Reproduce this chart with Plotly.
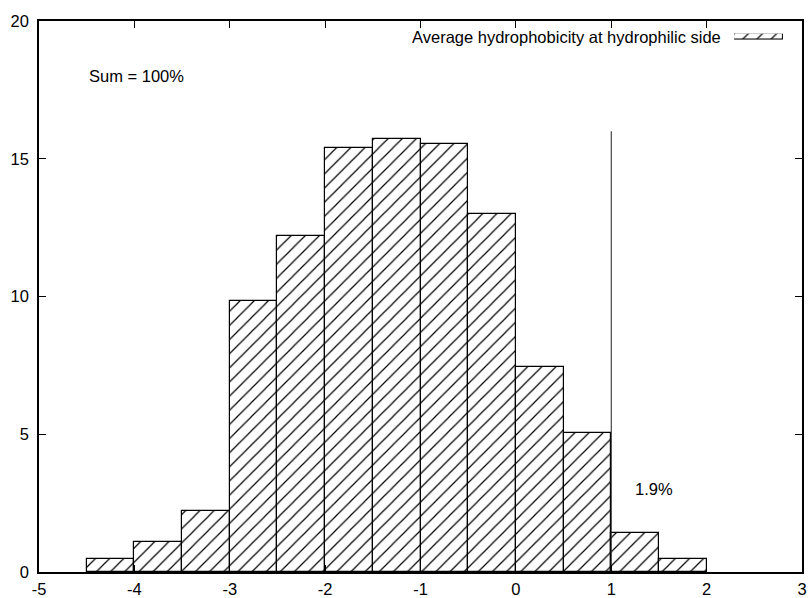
import plotly.graph_objects as go

# ---- data ----
bin_centers = [-4.25, -3.75, -3.25, -2.75, -2.25, -1.75, -1.25, -0.75, -0.25, 0.25, 0.75, 1.25, 1.75]
percent = [0.49, 1.10, 2.21, 9.84, 12.21, 15.39, 15.70, 15.55, 13.01, 7.44, 5.06, 1.42, 0.48]
bin_width = 0.5

cut_x = [1, 1]
cut_y = [0, 16]

x_ticks = [-5, -4, -3, -2, -1, 0, 1, 2, 3]
x_tick_text = ["-5", "-4", "-3", "-2", "-1", "0", "1", "2", "3"]
y_ticks = [0, 5, 10, 15, 20]
y_tick_text = ["0", "5", "10", "15", "20"]

series_name = "Average hydrophobicity at hydrophilic side"
sum_label = "Sum = 100%"
tail_label = "1.9%"

FONT = "Liberation Sans, Arial, Helvetica, sans-serif"
FS = 16.5

pattern = dict(shape="/", size=10, solidity=0.12, fgcolor="black", bgcolor="white", fillmode="replace")

fig = go.Figure()
fig.add_trace(go.Bar(
    x=bin_centers, y=percent, width=bin_width, name=series_name,
    marker=dict(color="white", line=dict(color="black", width=1.2), pattern=pattern),
    showlegend=False,
))
fig.add_trace(go.Scatter(
    x=cut_x, y=cut_y, mode="lines", line=dict(color="#222", width=1), showlegend=False,
))
# legend sample box (inset axes)
fig.add_trace(go.Bar(
    x=[0.5], y=[1], width=1, xaxis="x2", yaxis="y2", showlegend=False,
    marker=dict(color="white", line=dict(color="black", width=1.2), pattern=pattern),
))

axis_common = dict(
    showline=True, linecolor="black", linewidth=1.5, mirror="ticks",
    ticks="inside", ticklen=7, tickwidth=1.2, tickcolor="black",
    showgrid=False, zeroline=False, automargin=False,
    tickfont=dict(family=FONT, size=FS, color="black"),
)

fig.update_layout(
    width=811, height=598,
    margin=dict(l=39, r=9, t=21, b=26, autoexpand=False),
    plot_bgcolor="white", paper_bgcolor="white",
    bargap=0,
    xaxis=dict(range=[-5, 3], tickvals=x_ticks, ticktext=x_tick_text, ticklabelstandoff=1, **axis_common),
    yaxis=dict(range=[0, 20], tickvals=y_ticks, ticktext=y_tick_text, ticklabelstandoff=5, **axis_common),
    xaxis2=dict(domain=[0.911, 0.975], range=[0, 1], visible=False, anchor="y2"),
    yaxis2=dict(domain=[0.966, 0.977], range=[0, 1], visible=False, anchor="x2"),
    annotations=[
        dict(x=-4.5, y=18, xref="x", yref="y", text=sum_label, showarrow=False,
             xanchor="left", yanchor="middle", font=dict(family=FONT, size=FS, color="black")),
        dict(x=1.45, y=3, xref="x", yref="y", text=tail_label, showarrow=False,
             xanchor="center", yanchor="middle", font=dict(family=FONT, size=FS, color="black")),
        dict(x=0.897, y=0.971, xref="paper", yref="paper", text=series_name, showarrow=False,
             xanchor="right", yanchor="middle", font=dict(family=FONT, size=FS, color="black")),
    ],
)

fig.write_html(
    "out.html",
    config={"displayModeBar": False},
    post_script="document.body.style.margin='0';document.body.style.overflow='hidden';",
)
